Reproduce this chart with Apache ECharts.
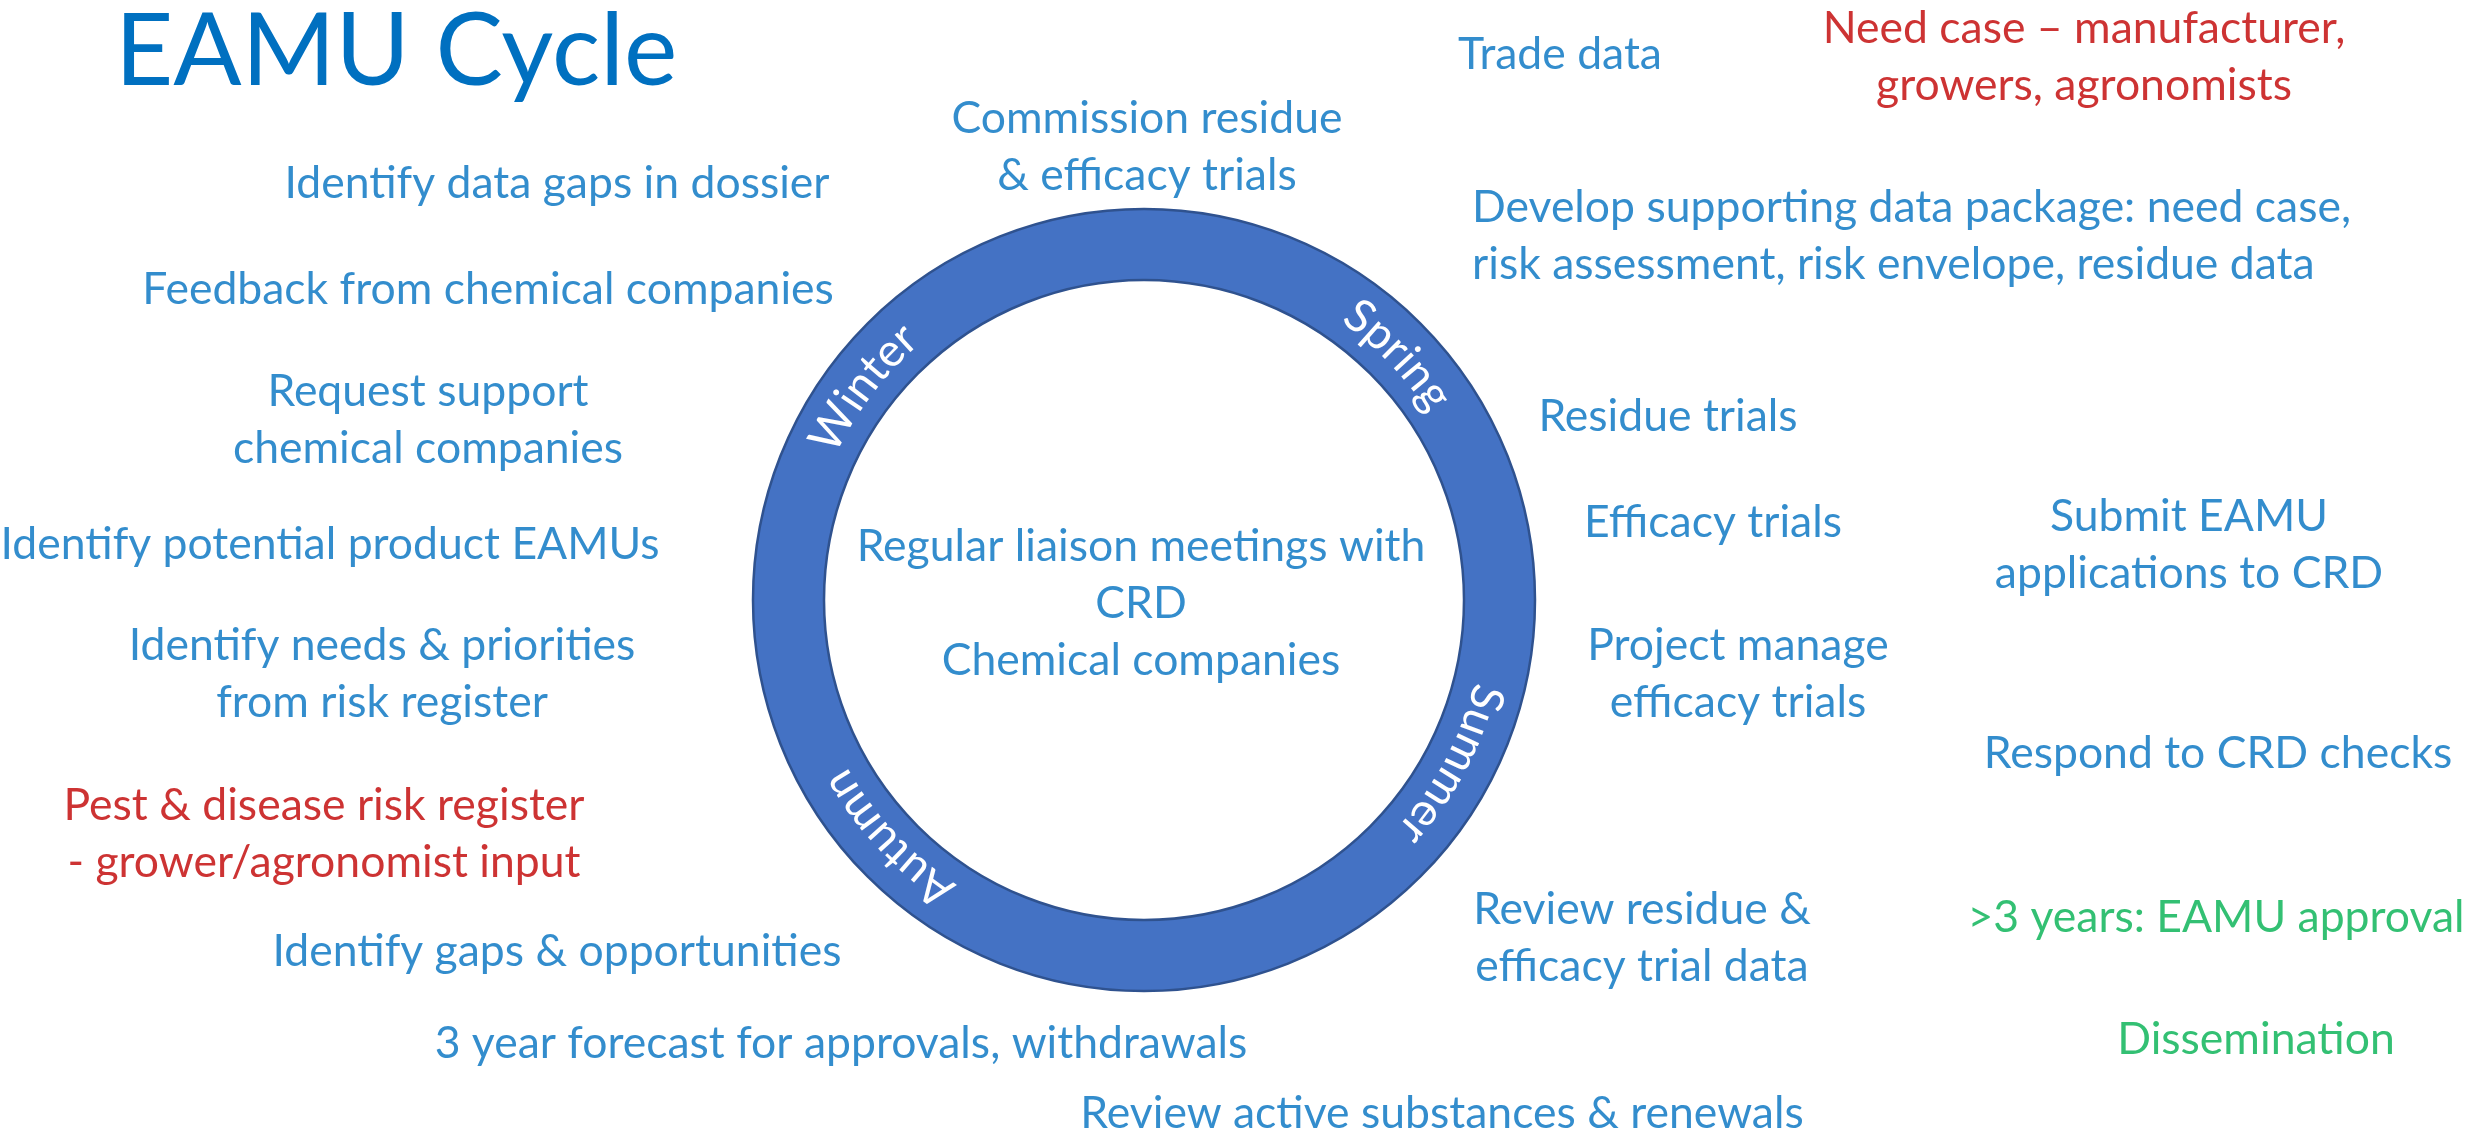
<!DOCTYPE html>
<html><head><meta charset="utf-8">
<script src="https://cdn.jsdelivr.net/npm/echarts@6/dist/echarts.min.js"></script>
<style>html,body{margin:0;padding:0;background:#fff}#c{width:2468px;height:1137px}</style>
</head><body><div id="c"></div>
<script>
// ---- content ----
const title = 'EAMU Cycle';
const seasons = ['Winter', 'Spring', 'Summer', 'Autumn'];
const seasonAngles = [-53, 46, 118, 227]; // degrees clockwise from top
const notes = [
  'Commission residue\n& efficacy trials',
  'Identify data gaps in dossier',
  'Feedback from chemical companies',
  'Request support\nchemical companies',
  'Identify potential product EAMUs',
  'Identify needs & priorities\nfrom risk register',
  'Pest & disease risk register\n- grower/agronomist input',
  'Identify gaps & opportunities',
  '3 year forecast for approvals, withdrawals',
  'Review active substances & renewals',
  'Trade data',
  'Need case \u2013 manufacturer,\ngrowers, agronomists',
  'Develop supporting data package: need case,\nrisk assessment, risk envelope, residue data',
  'Residue trials',
  'Efficacy trials',
  'Project manage\nefficacy trials',
  'Submit EAMU\napplications to CRD',
  'Respond to CRD checks',
  'Review residue &\nefficacy trial data',
  '>3 years: EAMU approval',
  'Dissemination',
  'Regular liaison meetings with\nCRD\nChemical companies'
];
const noteKinds = ['step','step','step','step','step','step','input','step','step','step','step','input',
  'step','step','step','step','step','step','step','outcome','outcome','step'];

// ---- layout (pixel frame of the slide) ----
const notePositions = [
  [1147,147],[557,184],[488,290],[428,420],[330,545],[382,674],[324,834],[557,952],[841,1044],[1442,1114],
  [1560,55],[2084,57],[1472,236],[1668,417],[1713,523],[1738,674],[2189,545],[2218,754],[1642,938],
  [2216,918],[2256,1040],[1141,604]
];
const noteAlign = notes.map((t, i) => i === 12 ? 'left' : 'center');
const kindColor = { step: '#0070C0', input: '#C00000', outcome: '#00B050' };
const FONT = 'Lato';
const noteSize = 44.5, noteLine = 57;
const ring = { cx: 1144, cy: 600, rIn: 320, rOut: 391 };
const seasonSize = 46;

const chart = echarts.init(document.getElementById('c'), null, { renderer: 'canvas' });

// curved season labels
const ctx = document.createElement('canvas').getContext('2d');
ctx.font = seasonSize + 'px ' + FONT;
const rMid = (ring.rIn + ring.rOut) / 2;
const seasonGraphics = [];
seasons.forEach((word, k) => {
  const chars = word.split('');
  const widths = chars.map(c => ctx.measureText(c).width * 1.05);
  const total = widths.reduce((a, b) => a + b, 0);
  let a = seasonAngles[k] * Math.PI / 180 - total / (2 * rMid);
  chars.forEach((c, j) => {
    const th = a + widths[j] / (2 * rMid);
    seasonGraphics.push({
      type: 'text',
      x: ring.cx + rMid * Math.sin(th),
      y: ring.cy - rMid * Math.cos(th),
      rotation: -th,
      silent: true,
      z: 10,
      style: { text: c, fill: '#FFFFFF', font: seasonSize + 'px ' + FONT,
               align: 'center', verticalAlign: 'middle', textAlign: 'center', textVerticalAlign: 'middle' }
    });
    a += widths[j] / rMid;
  });
});

chart.setOption({
  animation: false,
  backgroundColor: '#ffffff',
  title: {
    text: title, left: 110, top: -13,
    textStyle: { fontFamily: FONT, fontSize: 101, fontWeight: 'normal', color: '#0070C0', lineHeight: 120 }
  },
  grid: { left: 0, right: 0, top: 0, bottom: 0 },
  xAxis: { type: 'value', min: 0, max: 2468, show: false },
  yAxis: { type: 'value', min: 0, max: 1137, inverse: true, show: false },
  graphic: seasonGraphics,
  series: [
    {
      type: 'pie', silent: true, center: [ring.cx, ring.cy], radius: [ring.rIn, ring.rOut],
      label: { show: false }, labelLine: { show: false },
      itemStyle: { color: '#4472C4', borderColor: '#2F528F', borderWidth: 2.5 },
      emphasis: { disabled: true },
      data: [{ value: 1, name: 'cycle' }]
    },
    {
      type: 'scatter', silent: true, symbolSize: 0, z: 5,
      data: notes.map((t, i) => ({
        name: t,
        value: notePositions[i],
        label: {
          show: true, formatter: '{b}', position: [0, 0],
          align: noteAlign[i], verticalAlign: 'middle',
          color: kindColor[noteKinds[i]], fontFamily: FONT, fontSize: noteSize, lineHeight: noteLine
        }
      }))
    }
  ]
});
</script>
</body></html>
